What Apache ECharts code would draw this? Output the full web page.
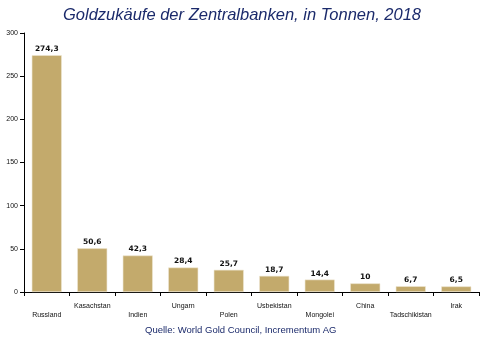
<!DOCTYPE html>
<html><head><meta charset="utf-8">
<script src="https://cdn.jsdelivr.net/npm/echarts@6/dist/echarts.min.js"></script>
<style>html,body{margin:0;padding:0;background:#fff}#c{width:484px;height:339px}</style>
</head><body><div id="c"></div>
<script>
const categories = ["Russland","Kasachstan","Indien","Ungarn","Polen","Usbekistan","Mongolei","China","Tadschikistan","Irak"];
const values = [274.3,50.6,42.3,28.4,25.7,18.7,14.4,10,6.7,6.5];
const yTicks = [0,50,100,150,200,250,300];
const chart = echarts.init(document.getElementById('c'));
const fmt = v => String(v).replace('.', ',');
chart.setOption({
  animation:false,
  title:[{text:"Goldzukäufe der Zentralbanken, in Tonnen, 2018",left:'center',top:2,
    textStyle:{fontFamily:'Liberation Sans, Arial',fontStyle:'italic',fontWeight:'normal',fontSize:16.5,color:'#1B2A6B'}},
    {text:"Quelle: World Gold Council, Incrementum AG",left:140,top:320,
    textStyle:{fontFamily:'Liberation Sans, Arial',fontWeight:'normal',fontSize:9.5,color:'#1B2A6B'}}],
  grid:{left:24,right:5,top:33,bottom:47},
  xAxis:{type:'category',data:categories,
    axisLine:{lineStyle:{color:'#000',width:1}},
    axisTick:{show:true,length:4,lineStyle:{color:'#000'}},
    axisLabel:{interval:0,margin:10,fontFamily:'Liberation Sans, Arial',fontSize:7,color:'#111',lineHeight:9,
      formatter:(v,i)=> i%2===0 ? '\n'+v : v}},
  yAxis:{type:'value',min:yTicks[0],max:yTicks[yTicks.length-1],interval:50,
    splitLine:{show:false},
    axisLine:{show:true,lineStyle:{color:'#000',width:1}},
    axisTick:{show:true,length:4,lineStyle:{color:'#000'}},
    axisLabel:{margin:6,fontFamily:'Liberation Sans, Arial',fontSize:7,color:'#111'}},
  series:[{type:'bar',data:values,barWidth:'66%',
    itemStyle:{color:'#C3AA6C',borderColor:'#EFE6D2',borderWidth:0.6},
    label:{show:true,position:'top',distance:2,fontFamily:'DejaVu Sans, Verdana',fontWeight:'bold',fontSize:7.5,color:'#111',
      formatter:p=>fmt(p.value)}}]
});
</script></body></html>
